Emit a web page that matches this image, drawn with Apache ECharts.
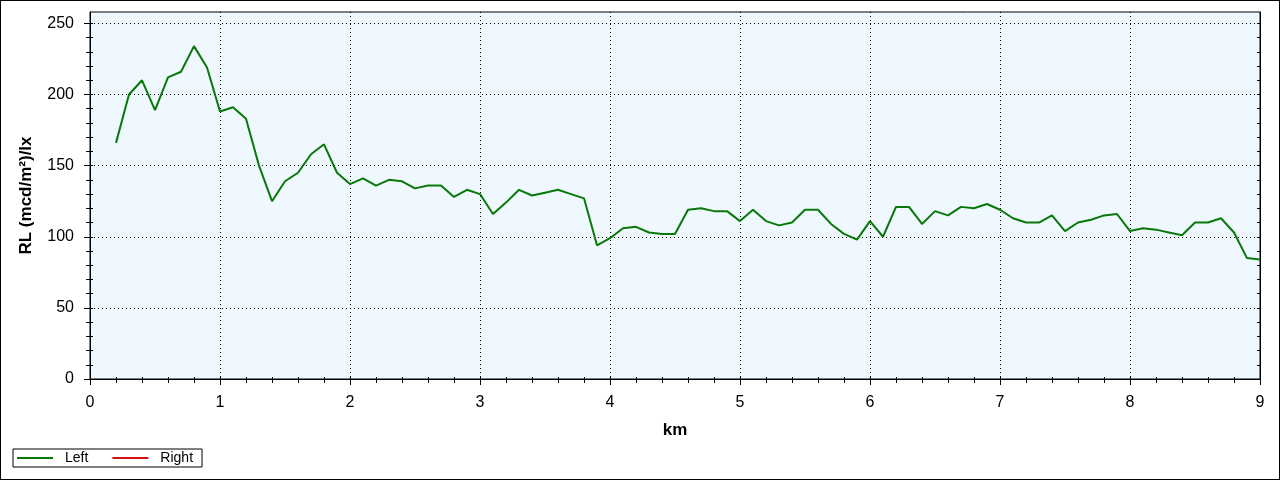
<!DOCTYPE html>
<html>
<head>
<meta charset="utf-8">
<script src="https://cdn.jsdelivr.net/npm/echarts@6/dist/echarts.min.js"></script>
<style>
  html, body { margin: 0; padding: 0; background: #fff; }
  #chart { width: 1278px; height: 478px; border: 1px solid #000; }
</style>
</head>
<body>
<div id="chart"></div>
<script>
// distance along road (km)
const distances = [
  0.2, 0.3, 0.4, 0.5, 0.6, 0.7, 0.8, 0.9, 1.0,
  1.1, 1.2, 1.3, 1.4, 1.5, 1.6, 1.7, 1.8, 1.9, 2.0,
  2.1, 2.2, 2.3, 2.4, 2.5, 2.6, 2.7, 2.8, 2.9, 3.0,
  3.1, 3.2, 3.3, 3.4, 3.5, 3.6, 3.7, 3.8, 3.9, 4.0,
  4.1, 4.2, 4.3, 4.4, 4.5, 4.6, 4.7, 4.8, 4.9, 5.0,
  5.1, 5.2, 5.3, 5.4, 5.5, 5.6, 5.7, 5.8, 5.9, 6.0,
  6.1, 6.2, 6.3, 6.4, 6.5, 6.6, 6.7, 6.8, 6.9, 7.0,
  7.1, 7.2, 7.3, 7.4, 7.5, 7.6, 7.7, 7.8, 7.9, 8.0,
  8.1, 8.2, 8.3, 8.4, 8.5, 8.6, 8.7, 8.8, 8.9, 9.0
];
// RL values, left lane (mcd/m²)/lx
const leftRL = [
  166, 200, 210, 189, 212, 216, 234, 219, 188,
  191, 183, 150, 125, 139, 145, 158, 165, 145, 137,
  141, 136, 140, 139, 134, 136, 136, 128, 133, 130,
  116, 124, 133, 129, 131, 133, 130, 127, 94, 99,
  106, 107, 103, 102, 102, 119, 120, 118, 118, 111,
  119, 111, 108, 110, 119, 119, 109, 102, 98, 111,
  100, 121, 121, 109, 118, 115, 121, 120, 123, 119,
  113, 110, 110, 115, 104, 110, 112, 115, 116, 104,
  106, 105, 103, 101, 110, 110, 113, 103, 85, 84
];
// right lane: no measurements shown
const rightRL = [];
const seriesNames = ['Left', 'Right'];
const yMajorTicks = [0, 50, 100, 150, 200, 250];
const xName = 'km';
const yName = 'RL (mcd/m\u00B2)/lx';

const FONT = 'Liberation Sans, Arial, sans-serif';
const yMinor = [], yAll = [];
for (let v = 0; v <= 250; v += 10) { yAll.push(v); if (v % 50) yMinor.push(v); }

const X_MIN = 0, X_MAX = 9, Y_MIN = 0, Y_MAX = 258;
const hidden = { show: false };
const xBase = { type: 'value', min: X_MIN, max: X_MAX, interval: 1 };
const yBase = { type: 'value', min: Y_MIN, max: Y_MAX, interval: 50 };

const chart = echarts.init(document.getElementById('chart'), null, { renderer: 'canvas' });
chart.setOption({
  animation: false,
  backgroundColor: '#ffffff',
  textStyle: { fontFamily: FONT },
  grid: {
    left: 89, right: 19, top: 11, bottom: 100,
    show: true, backgroundColor: '#F0F8FF', borderColor: '#000', borderWidth: 1
  },
  legend: {
    left: 12, top: 448,
    padding: [2, 9, 2, 4],
    itemGap: 24, itemWidth: 36, itemHeight: 2,
    backgroundColor: '#fff', borderColor: '#000', borderWidth: 1, borderRadius: 0,
    textStyle: { fontFamily: FONT, fontSize: 14, color: '#000', padding: [0, 0, 0, 7] },
    data: [{ name: 'Left', icon: 'rect' }, { name: 'Right', icon: 'rect' }]
  },
  xAxis: [
    Object.assign({}, xBase, {
      position: 'bottom',
      name: xName, nameLocation: 'middle', nameGap: 43,
      nameTextStyle: { fontFamily: FONT, fontSize: 17, fontWeight: 'bold', color: '#000' },
      axisLine: { show: true, lineStyle: { color: '#000', width: 1 } },
      axisTick: { show: true, inside: false, length: 6, lineStyle: { color: '#000' } },
      minorTick: { show: true, splitNumber: 5, length: 4, lineStyle: { color: '#000' } },
      axisLabel: { show: true, margin: 16, fontFamily: FONT, fontSize: 16, color: '#000' },
      splitLine: { show: true, lineStyle: { color: '#000', type: [1, 3], width: 1 } },
      minorSplitLine: hidden
    }),
    Object.assign({}, xBase, {
      position: 'bottom',
      axisLine: hidden, axisLabel: hidden, splitLine: hidden,
      axisTick: { show: true, inside: true, length: 2, lineStyle: { color: '#000' } },
      minorTick: { show: true, splitNumber: 5, length: 2, lineStyle: { color: '#000' } }
    }),
    Object.assign({}, xBase, {
      position: 'top',
      axisLine: { show: true, lineStyle: { color: '#000' } },
      axisLabel: hidden, splitLine: hidden,
      axisTick: { show: true, inside: true, length: 3, lineStyle: { color: '#000' } },
      minorTick: { show: true, splitNumber: 5, length: 3, lineStyle: { color: '#000' } }
    })
  ],
  yAxis: [
    Object.assign({}, yBase, {
      position: 'left',
      name: yName, nameLocation: 'middle', nameGap: 55,
      nameTextStyle: { fontFamily: FONT, fontSize: 17, fontWeight: 'bold', color: '#000' },
      axisLine: { show: true, lineStyle: { color: '#000', width: 1 } },
      axisTick: { show: true, inside: false, length: 6, customValues: yMajorTicks, lineStyle: { color: '#000' } },
      axisLabel: { show: true, margin: 16, fontFamily: FONT, fontSize: 16, color: '#000',
        customValues: yMajorTicks },
      splitLine: { show: true, lineStyle: { color: '#000', type: [1, 3], width: 1 } }
    }),
    Object.assign({}, yBase, {
      position: 'left',
      axisLine: hidden, axisLabel: hidden, splitLine: hidden,
      axisTick: { show: true, inside: false, length: 4, customValues: yMinor, lineStyle: { color: '#000' } }
    }),
    Object.assign({}, yBase, {
      position: 'left',
      axisLine: hidden, axisLabel: hidden, splitLine: hidden,
      axisTick: { show: true, inside: true, length: 3, customValues: yAll, lineStyle: { color: '#000' } }
    }),
    Object.assign({}, yBase, {
      position: 'right',
      axisLine: { show: true, lineStyle: { color: '#000' } },
      axisLabel: hidden, splitLine: hidden,
      axisTick: { show: true, inside: true, length: 3, customValues: yAll, lineStyle: { color: '#000' } }
    })
  ],
  series: [
    {
      name: seriesNames[0], type: 'line', xAxisIndex: 0, yAxisIndex: 0,
      data: distances.map((d, i) => [d, leftRL[i]]),
      showSymbol: false, symbol: 'none',
      color: '#087808',
      lineStyle: { color: '#087808', width: 2 }
    },
    {
      name: seriesNames[1], type: 'line', xAxisIndex: 0, yAxisIndex: 0,
      data: rightRL,
      showSymbol: false, symbol: 'none',
      color: '#d41010',
      lineStyle: { color: '#d41010', width: 2 }
    }
  ]
});
</script>
</body>
</html>
